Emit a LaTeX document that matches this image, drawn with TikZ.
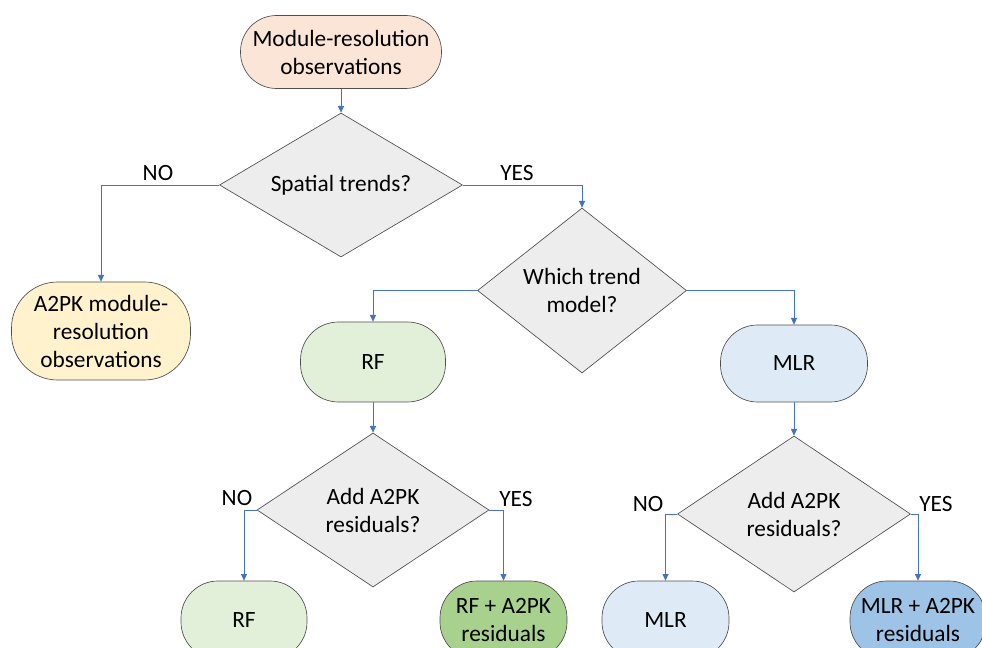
\documentclass[tikz,border=0pt]{standalone}
\usepackage{fontspec}
\setmainfont{Carlito}
\usetikzlibrary{shapes.geometric,arrows.meta}
\definecolor{peach}{HTML}{FBE5D6}
\definecolor{pyellow}{HTML}{FFF2CC}
\definecolor{lgreen}{HTML}{E2F0D9}
\definecolor{dgreen}{HTML}{A9D18E}
\definecolor{lblue}{HTML}{DEEBF7}
\definecolor{dblue}{HTML}{9DC3E6}
\definecolor{dgray}{HTML}{EDEDED}
\definecolor{edge}{HTML}{4F4F4F}
\definecolor{conncol}{HTML}{4472C4}
\tikzset{
  txt/.style={font=\fontsize{17.5pt}{21pt}\selectfont},
  term/.style={txt, draw=edge, line width=0.5pt, align=center, inner sep=0pt, rectangle},
  decision/.style={txt, draw=edge, line width=0.5pt, fill=dgray, align=center, diamond, inner sep=0pt},
  conn/.style={draw=conncol, line width=0.6pt, -{Triangle[length=5pt,width=4.5pt]}},
  lbl/.style={txt, inner sep=1pt, anchor=base}
}
\begin{document}
\begin{tikzpicture}[x=0.75pt,y=-0.75pt]
\useasboundingbox (0,0) rectangle (982,648);
\clip (0,0) rectangle (982,648);
% nodes
\node[term, fill=peach, minimum width={201*0.75pt}, minimum height={73*0.75pt}, rounded corners={36*0.75pt}] (start) at (341,52) {Module-resolution\\observations};
\node[decision, aspect=1.69, minimum width={243*0.75pt}, minimum height={144*0.75pt}] (d1) at (341,185) {Spatial trends?};
\node[term, fill=pyellow, minimum width={179*0.75pt}, minimum height={98*0.75pt}, rounded corners={46*0.75pt}] (a2pk) at (101,331) {A2PK module-\\resolution\\observations};
\node[decision, aspect=1.27, minimum width={209*0.75pt}, minimum height={165*0.75pt}] (d2) at (582,290.5) {Which trend\\model?};
\node[term, fill=lgreen, minimum width={145*0.75pt}, minimum height={80*0.75pt}, rounded corners={38*0.75pt}] (rf) at (373,362) {RF};
\node[term, fill=lblue, minimum width={147*0.75pt}, minimum height={77*0.75pt}, rounded corners={37*0.75pt}] (mlr) at (794,363.5) {MLR};
\node[decision, aspect=1.5, minimum width={232*0.75pt}, minimum height={154*0.75pt}] (d3) at (373,510) {Add A2PK\\residuals?};
\node[decision, aspect=1.5, minimum width={233*0.75pt}, minimum height={156*0.75pt}] (d4) at (794,514) {Add A2PK\\residuals?};
\node[term, fill=lgreen, minimum width={126*0.75pt}, minimum height={78*0.75pt}, rounded corners={37*0.75pt}] (rf2) at (244,620) {RF};
\node[term, fill=dgreen, minimum width={127*0.75pt}, minimum height={78*0.75pt}, rounded corners={37*0.75pt}] (rfres) at (503.5,620) {RF + A2PK\\residuals};
\node[term, fill=lblue, minimum width={127*0.75pt}, minimum height={78*0.75pt}, rounded corners={37*0.75pt}] (mlr2) at (665.5,620) {MLR};
\node[term, fill=dblue, minimum width={136*0.75pt}, minimum height={78*0.75pt}, rounded corners={37*0.75pt}] (mlrres) at (918,620) {MLR + A2PK\\residuals};
% connectors
\draw[conn] (start.south) -- (d1.north);
\draw[conn] (d1.west) -| (a2pk.north);
\draw[conn] (d1.east) -| (d2.north);
\draw[conn] (d2.west) -| (rf.north);
\draw[conn] (d2.east) -| (mlr.north);
\draw[conn] (rf.south) -- (d3.north);
\draw[conn] (mlr.south) -- (d4.north);
\draw[conn] (d3.west) -| (rf2.north);
\draw[conn] (d3.east) -| (rfres.north);
\draw[conn] (d4.west) -| (mlr2.north);
\draw[conn] (d4.east) -| (mlrres.north);
% labels
\node[lbl] (no1) at (158,181) {NO};
\node[lbl] (yes1) at (517,181) {YES};
\node[lbl] (no2) at (237,505) {NO};
\node[lbl] (yes2) at (516,506) {YES};
\node[lbl] (no3) at (648,512) {NO};
\node[lbl] (yes3) at (936,512) {YES};
\end{tikzpicture}
\end{document}
